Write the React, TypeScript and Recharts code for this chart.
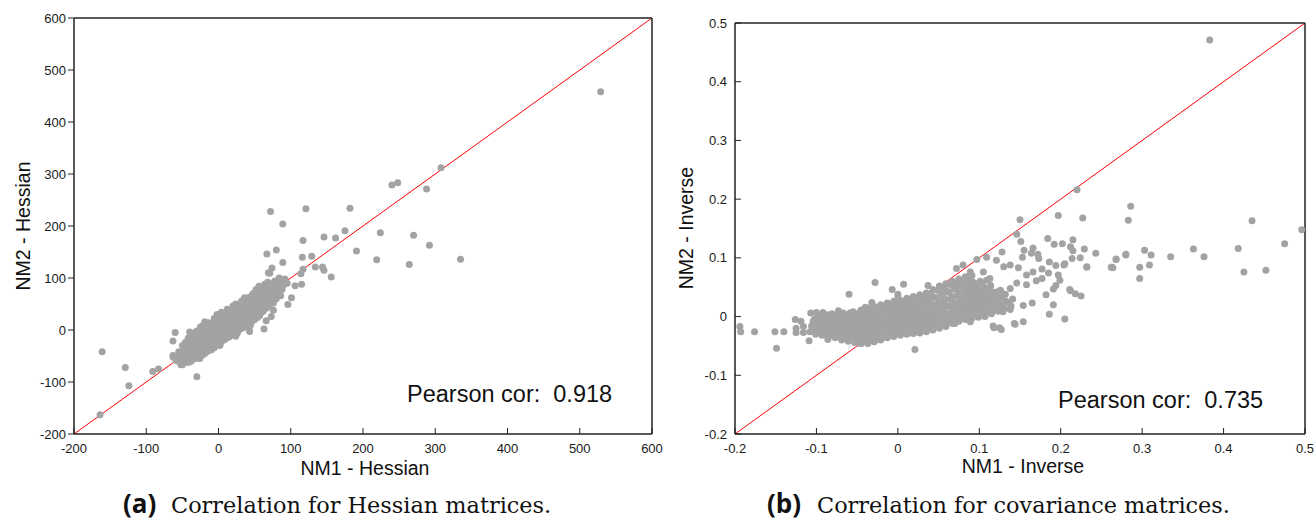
import React from 'react';
import { ScatterChart, Scatter, XAxis, YAxis, ReferenceLine } from 'recharts';

// ─── Data ─────────────────────────────────────────────────────────────────────

const hessianTicks = [-200, -100, 0, 100, 200, 300, 400, 500, 600];
const inverseTicks = [-0.2, -0.1, 0, 0.1, 0.2, 0.3, 0.4, 0.5];

const hessianCaption = { tag: '(a)', text: 'Correlation for Hessian matrices.' };
const inverseCaption = { tag: '(b)', text: 'Correlation for covariance matrices.' };

// scattered points (NM1, NM2) of the Hessian panel
const hessianOutliers: [number, number][] = [
  [529, 458], [308, 312], [240, 279], [248, 283], [288, 271], [182, 234], [121, 233],
  [72, 228], [89, 204], [162, 177], [175, 191], [146, 179], [117, 172], [224, 187],
  [270, 182], [292, 163], [335, 136], [219, 135], [264, 126], [191, 152], [156, 102],
  [80, 154], [67, 146], [116, 140], [129, 142], [89, 130], [74, 119], [69, 110],
  [134, 121], [144, 121], [146, 115], [117, 117], [114, 108], [106, 85], [115, 88],
  [101, 62], [96, 49], [66, 18], [63, 2], [43, -3], [-30, -90], [-60, -5], [-63, -21],
  [-63, -52], [-83, -75], [-91, -80], [-161, -42], [-129, -72], [-124, -107],
  [-164, -163], [85, 86], [76, 38], [73, 26], [71, 109],
];

// the dense band around the diagonal
const hessianCore: [number, number][] = [
  [-63, -49], [-59, -58], [-52, -67], [-50, -67], [-40, -4], [-35, -6], [-25, 6], [-19, 16],
  [-26, -55], [2, -30], [24, -12], [44, 8], [57, 28], [76, 52],
  [-58, -50], [-56, -60], [-55, -42], [-52, -55], [-50, -47], [-50, -66], [-48, -38],
  [-46, -58], [-45, -50], [-44, -30], [-42, -42], [-41, -62], [-40, -52], [-39, -22],
  [-38, -35], [-37, -45], [-36, -56], [-34, -28], [-33, -40], [-32, -18], [-31, -50],
  [-30, -33], [-29, -10], [-28, -24], [-27, -44], [-26, -36], [-25, -16], [-24, -28],
  [-23, -4], [-22, -40], [-21, -20], [-20, -32], [-19, -11], [-18, -25], [-17, 2],
  [-16, -36], [-15, -15], [-14, -5], [-13, -27], [-12, 8], [-11, -18], [-10, -32],
  [-9, -8], [-8, 2], [-7, -22], [-6, 14], [-5, -13], [-4, -28], [-3, -2], [-2, 8],
  [-1, -18], [0, 20], [1, -8], [2, 2], [3, -24], [4, 12], [5, -14], [6, 26], [7, -3],
  [8, 6], [9, -18], [10, 16], [11, -8], [12, 30], [13, 2], [14, 10], [15, -12], [16, 22],
  [17, -2], [18, 36], [19, 8], [20, 15], [21, -6], [22, 28], [23, 3], [24, 40], [25, 18],
  [26, 10], [27, -2], [28, 32], [29, 22], [30, 46], [31, 12], [32, 28], [33, 4], [34, 38],
  [35, 20], [36, 52], [37, 30], [38, 14], [39, 44], [40, 26], [41, 62], [42, 36], [43, 18],
  [44, 50], [45, 30], [46, 42], [47, 22], [48, 58], [49, 36], [50, 48], [51, 28], [52, 66],
  [53, 42], [54, 56], [55, 34], [56, 74], [57, 48], [58, 62], [59, 38], [60, 54], [61, 80],
  [62, 44], [63, 66], [64, 56], [65, 72], [66, 50], [67, 84], [68, 62], [69, 74], [70, 56],
  [72, 68], [73, 80], [74, 60], [75, 90], [76, 72], [78, 66], [79, 82], [80, 74], [82, 92],
  [83, 70], [85, 80], [87, 96], [88, 78], [90, 86], [92, 98], [95, 90],
];

// upper and lower fringes of the band, plus extra fill inside it
const hessianFringe: [number, number][] = [
  [-50, -30], [-46, -24], [-42, -16], [-38, -12], [-34, -8], [-30, -2], [-26, -6], [-22, 8],
  [-18, 6], [-14, 14], [-10, 12], [-6, 22], [-2, 30], [1, 24], [4, 34], [8, 28], [12, 40],
  [16, 36], [20, 46], [24, 50], [28, 44], [32, 56], [36, 62], [40, 54], [44, 64], [48, 70],
  [52, 78], [56, 84], [60, 72], [64, 88], [68, 92], [72, 86], [78, 94], [84, 100],
  [-44, -62], [-38, -60], [-34, -56], [-30, -54], [-26, -50], [-22, -48], [-18, -44],
  [-14, -40], [-10, -38], [-6, -34], [-2, -30], [2, -22], [6, -20], [10, -16], [14, -14],
  [18, -10], [22, -4], [26, -6], [30, 2], [34, 6], [38, 6], [42, 12], [46, 16], [50, 20],
  [54, 24], [58, 32], [62, 36], [66, 42], [70, 46], [74, 52], [80, 60], [86, 66],
  [-56, -52], [-53, -48], [-49, -54], [-47, -44], [-43, -48], [-41, -36], [-38, -42],
  [-35, -30], [-33, -48], [-31, -26], [-28, -38], [-26, -22], [-24, -46], [-22, -26],
  [-20, -14], [-18, -36], [-16, -22], [-14, -30], [-12, -12], [-10, -22], [-8, -16],
  [-6, -4], [-4, -20], [-2, -10], [0, -4], [2, 16], [4, -6], [6, 4], [8, -10], [10, 8],
  [12, -2], [14, 20], [16, 4], [18, 18], [20, 2], [22, 14], [24, 26], [26, 30], [28, 14],
  [30, 24], [32, 40], [34, 24], [36, 36], [38, 28], [40, 42], [42, 48], [44, 36], [46, 54],
  [48, 40], [50, 58], [52, 46], [54, 40], [56, 60], [58, 50], [60, 66], [62, 58], [64, 46],
  [66, 64], [68, 74], [70, 66], [72, 58], [74, 76], [78, 76], [82, 80], [86, 88],
];

// scattered points (NM1, NM2) of the inverse panel
const inverseOutliers: [number, number][] = [
  [0.383, 0.471], [0.22, 0.216], [0.286, 0.188], [0.283, 0.164], [0.197, 0.172],
  [0.227, 0.168], [0.15, 0.165], [0.435, 0.163], [0.496, 0.148], [0.475, 0.124],
  [0.418, 0.116], [0.363, 0.115], [0.303, 0.113], [0.311, 0.105], [0.335, 0.102],
  [0.376, 0.102], [0.28, 0.105], [0.268, 0.097], [0.243, 0.108], [0.229, 0.115],
  [0.215, 0.131], [0.202, 0.124], [0.192, 0.123], [0.184, 0.133], [0.166, 0.117],
  [0.155, 0.113], [0.151, 0.128], [0.146, 0.14], [0.128, 0.11], [0.215, 0.112],
  [0.212, 0.119], [0.262, 0.084], [0.264, 0.083], [0.297, 0.084], [0.309, 0.088],
  [0.297, 0.065], [0.425, 0.076], [0.452, 0.079], [0.232, 0.084], [0.225, 0.035],
  [0.212, 0.044], [0.205, -0.004], [0.191, 0.02], [0.186, 0.004], [0.165, 0.023],
  [0.154, 0.019], [0.154, -0.009], [0.144, -0.013], [0.127, -0.022], [0.118, -0.019],
  [0.182, 0.037], [0.204, 0.088], [0.224, 0.1], [0.214, 0.099], [0.232, 0.085],
  [0.263, 0.084], [0.268, 0.098], [0.28, 0.106], [0.205, 0.09], [0.194, 0.087],
  [0.186, 0.093], [0.164, 0.108], [0.172, 0.106], [0.173, 0.099], [0.153, 0.101],
  [0.097, 0.097], [0.211, 0.046], [0.218, 0.039], [0.138, 0.012], [0.129, 0.008],
  [0.158, 0.054], [0.17, 0.061], [0.177, 0.065], [0.191, 0.047], [0.194, 0.053],
  [0.199, 0.062], [0.197, 0.071], [0.185, 0.074], [0.177, 0.081], [0.166, 0.076],
  [0.158, 0.071], [0.148, 0.083], [0.138, 0.088], [0.13, 0.085], [0.121, 0.096],
  [0.109, 0.101], [0.105, 0.076], [0.113, 0.065], [0.121, 0.042], [0.13, 0.037],
  [0.138, 0.048], [0.146, 0.057], [0.089, 0.076], [0.08, 0.088], [0.072, 0.082],
  [0.085, 0.059], [0.072, 0.054], [0.097, 0.054], [0.089, 0.037], [0.105, 0.031],
  [0.117, 0.02], [0.097, 0.014], [0.08, 0.025], [0.07, -0.012], [0.089, -0.009],
  [0.107, 0.0], [0.117, -0.016], [0.125, -0.019], [0.143, -0.012],
  [-0.194, -0.017], [-0.193, -0.026], [-0.176, -0.026], [-0.151, -0.026], [-0.14, -0.026],
  [-0.149, -0.054], [-0.126, -0.005], [-0.125, -0.02], [-0.125, -0.027], [-0.119, -0.008],
  [-0.116, -0.027], [-0.116, -0.017], [-0.109, -0.041], [-0.107, 0.006], [-0.1, 0.007],
  [-0.092, 0.007], [-0.086, -0.039], [-0.073, 0.01], [-0.06, 0.038], [-0.028, 0.058],
  [-0.032, 0.024], [-0.007, 0.046], [0.0, 0.038], [0.007, 0.055], [0.037, 0.053],
  [0.021, -0.056], [-0.046, -0.046],
];

// the dense blob around zero
const inverseCore: [number, number][] = [
  [-0.108, -0.026], [-0.106, -0.016], [-0.104, -0.008],
  [-0.101, -0.03], [-0.099, -0.02], [-0.1, -0.01], [-0.098, -0.002],
  [-0.093, -0.032], [-0.091, -0.022], [-0.092, -0.013], [-0.09, -0.004], [-0.094, 0.002],
  [-0.085, -0.034], [-0.083, -0.024], [-0.084, -0.015], [-0.082, -0.006], [-0.086, 0.003],
  [-0.077, -0.036], [-0.075, -0.027], [-0.076, -0.017], [-0.074, -0.008], [-0.078, 0.002],
  [-0.069, -0.04], [-0.067, -0.03], [-0.068, -0.021], [-0.066, -0.011], [-0.07, -0.002], [-0.067, 0.006],
  [-0.061, -0.042], [-0.059, -0.032], [-0.06, -0.023], [-0.058, -0.013], [-0.062, -0.004], [-0.059, 0.006],
  [-0.053, -0.044], [-0.051, -0.034], [-0.052, -0.025], [-0.05, -0.015], [-0.054, -0.006], [-0.051, 0.004],
  [-0.045, -0.046], [-0.043, -0.036], [-0.044, -0.027], [-0.042, -0.017], [-0.046, -0.008], [-0.043, 0.002], [-0.045, 0.011],
  [-0.037, -0.046], [-0.035, -0.036], [-0.036, -0.026], [-0.034, -0.016], [-0.038, -0.006], [-0.035, 0.004], [-0.037, 0.014],
  [-0.029, -0.043], [-0.027, -0.033], [-0.028, -0.023], [-0.026, -0.013], [-0.03, -0.003], [-0.027, 0.007], [-0.029, 0.017],
  [-0.021, -0.04], [-0.019, -0.03], [-0.02, -0.02], [-0.018, -0.01], [-0.022, 0.0], [-0.019, 0.01], [-0.021, 0.02],
  [-0.013, -0.036], [-0.011, -0.026], [-0.012, -0.016], [-0.01, -0.006], [-0.014, 0.004], [-0.011, 0.014], [-0.013, 0.023],
  [-0.005, -0.034], [-0.003, -0.024], [-0.004, -0.014], [-0.002, -0.004], [-0.006, 0.006], [-0.003, 0.016], [-0.005, 0.026],
  [0.003, -0.032], [0.005, -0.022], [0.004, -0.012], [0.006, -0.002], [0.002, 0.008], [0.005, 0.018], [0.003, 0.028],
  [0.011, -0.03], [0.013, -0.02], [0.012, -0.01], [0.014, 0.0], [0.01, 0.01], [0.013, 0.02], [0.011, 0.031],
  [0.019, -0.029], [0.021, -0.019], [0.02, -0.009], [0.022, 0.002], [0.018, 0.012], [0.021, 0.022], [0.019, 0.034],
  [0.027, -0.028], [0.029, -0.018], [0.028, -0.007], [0.03, 0.004], [0.026, 0.015], [0.029, 0.026], [0.027, 0.037],
  [0.035, -0.026], [0.037, -0.015], [0.036, -0.004], [0.038, 0.007], [0.034, 0.018], [0.037, 0.029], [0.035, 0.04],
  [0.043, -0.023], [0.045, -0.012], [0.044, -0.001], [0.046, 0.01], [0.042, 0.021], [0.045, 0.033], [0.043, 0.046],
  [0.051, -0.02], [0.053, -0.009], [0.052, 0.002], [0.054, 0.014], [0.05, 0.026], [0.053, 0.039], [0.051, 0.052],
  [0.059, -0.017], [0.061, -0.005], [0.06, 0.006], [0.062, 0.018], [0.058, 0.03], [0.061, 0.043], [0.059, 0.056],
  [0.067, -0.012], [0.069, 0.0], [0.068, 0.011], [0.07, 0.023], [0.066, 0.035], [0.069, 0.048], [0.067, 0.06],
  [0.075, -0.008], [0.077, 0.004], [0.076, 0.016], [0.078, 0.028], [0.074, 0.04], [0.077, 0.052], [0.075, 0.064],
  [0.083, -0.005], [0.085, 0.007], [0.084, 0.019], [0.086, 0.031], [0.082, 0.043], [0.085, 0.056], [0.083, 0.068],
  [0.091, -0.003], [0.093, 0.009], [0.092, 0.021], [0.094, 0.033], [0.09, 0.045], [0.093, 0.058], [0.091, 0.07],
  [0.099, -0.001], [0.101, 0.011], [0.1, 0.023], [0.102, 0.035], [0.098, 0.047], [0.101, 0.06],
  [0.107, 0.002], [0.109, 0.014], [0.108, 0.026], [0.11, 0.038], [0.106, 0.05], [0.109, 0.062],
  [0.115, 0.005], [0.117, 0.017], [0.116, 0.029], [0.118, 0.041], [0.114, 0.053],
  [0.123, 0.009], [0.125, 0.021], [0.124, 0.033], [0.126, 0.045],
  [0.131, 0.014], [0.133, 0.026], [0.132, 0.038],
  [0.139, 0.018], [0.141, 0.03],
];

// extra fill between the blob's points
const inverseFill: [number, number][] = [
  [-0.104, -0.024], [-0.103, -0.013], [-0.102, -0.004],
  [-0.096, -0.027], [-0.095, -0.017], [-0.096, -0.008], [-0.095, 0.0],
  [-0.088, -0.029], [-0.087, -0.019], [-0.088, -0.01], [-0.087, -0.001],
  [-0.08, -0.031], [-0.079, -0.021], [-0.08, -0.012], [-0.079, -0.003], [-0.081, 0.005],
  [-0.072, -0.034], [-0.071, -0.024], [-0.072, -0.015], [-0.071, -0.006], [-0.073, 0.003],
  [-0.064, -0.037], [-0.063, -0.027], [-0.064, -0.018], [-0.063, -0.008], [-0.065, 0.002],
  [-0.056, -0.039], [-0.055, -0.029], [-0.056, -0.02], [-0.055, -0.01], [-0.057, 0.0], [-0.055, 0.008],
  [-0.048, -0.041], [-0.047, -0.031], [-0.048, -0.022], [-0.047, -0.012], [-0.049, -0.003], [-0.047, 0.007],
  [-0.04, -0.042], [-0.039, -0.031], [-0.04, -0.021], [-0.039, -0.011], [-0.041, -0.001], [-0.039, 0.009], [-0.04, 0.016],
  [-0.032, -0.041], [-0.031, -0.03], [-0.032, -0.018], [-0.031, -0.008], [-0.033, 0.002], [-0.031, 0.012],
  [-0.024, -0.038], [-0.023, -0.025], [-0.024, -0.015], [-0.023, -0.005], [-0.025, 0.005], [-0.023, 0.015],
  [-0.016, -0.035], [-0.015, -0.021], [-0.016, -0.011], [-0.015, -0.001], [-0.017, 0.009], [-0.015, 0.018],
  [-0.008, -0.031], [-0.007, -0.019], [-0.008, -0.009], [-0.007, 0.001], [-0.009, 0.011], [-0.007, 0.021],
  [0.0, -0.028], [0.001, -0.017], [0.0, -0.007], [0.001, 0.003], [-0.001, 0.013], [0.001, 0.023], [0.0, 0.031],
  [0.008, -0.026], [0.009, -0.015], [0.008, -0.005], [0.009, 0.005], [0.007, 0.015], [0.009, 0.025],
  [0.016, -0.025], [0.017, -0.014], [0.016, -0.004], [0.017, 0.007], [0.015, 0.017], [0.017, 0.028],
  [0.024, -0.024], [0.025, -0.013], [0.024, -0.002], [0.025, 0.009], [0.023, 0.02], [0.025, 0.031],
  [0.032, -0.022], [0.033, -0.01], [0.032, 0.001], [0.033, 0.012], [0.031, 0.023], [0.033, 0.034],
  [0.04, -0.02], [0.041, -0.007], [0.04, 0.004], [0.041, 0.015], [0.039, 0.027], [0.041, 0.039],
  [0.048, -0.016], [0.049, -0.004], [0.048, 0.008], [0.049, 0.02], [0.047, 0.032], [0.049, 0.045],
  [0.056, -0.012], [0.057, 0.0], [0.056, 0.012], [0.057, 0.024], [0.055, 0.036], [0.057, 0.049],
  [0.064, -0.009], [0.065, 0.005], [0.064, 0.017], [0.065, 0.029], [0.063, 0.041], [0.065, 0.054],
  [0.072, -0.005], [0.073, 0.01], [0.072, 0.022], [0.073, 0.034], [0.071, 0.046], [0.073, 0.058],
  [0.08, -0.002], [0.081, 0.013], [0.08, 0.025], [0.081, 0.037], [0.079, 0.05], [0.081, 0.062],
  [0.088, 0.001], [0.089, 0.015], [0.088, 0.027], [0.089, 0.039], [0.087, 0.051], [0.089, 0.064],
  [0.096, 0.004], [0.097, 0.017], [0.096, 0.029], [0.097, 0.041], [0.095, 0.053],
  [0.104, 0.007], [0.105, 0.02], [0.104, 0.032], [0.105, 0.044], [0.103, 0.056],
  [0.112, 0.01], [0.113, 0.023], [0.112, 0.035], [0.113, 0.047],
  [0.12, 0.013], [0.121, 0.027], [0.12, 0.039], [0.128, 0.018], [0.129, 0.031], [0.136, 0.024],
];

// ─── Styling ──────────────────────────────────────────────────────────────────

const POINT = '#a3a3a3';
const FRAME = '#222222';
const SANS = '"Liberation Sans", Arial, sans-serif';

const toRows = (pts: [number, number][]) => pts.map(([x, y]) => ({ x, y }));

const Dot = (props: any) => <circle cx={props.cx} cy={props.cy} r={3.5} fill={POINT} />;

const tickFont = { fontSize: 13, fill: '#1a1a1a', fontFamily: SANS };

interface PanelProps {
  width: number;
  margin: { top: number; right: number; bottom: number; left: number };
  domain: [number, number];
  ticks: number[];
  points: [number, number][];
  leftTicksOut: boolean;
}

// axis sizes are subtracted from the margins so the frame lands where it should
const Panel: React.FC<PanelProps> = ({ width, margin, domain, ticks, points, leftTicksOut }) => (
  <ScatterChart
    width={width}
    height={521}
    margin={{
      top: margin.top - 2,
      right: margin.right - 2,
      bottom: margin.bottom - 30,
      left: margin.left - 60,
    }}
  >
    <XAxis
      xAxisId="b" type="number" dataKey="x" orientation="bottom" height={30}
      domain={domain} ticks={ticks} interval={0} allowDataOverflow
      tickSize={-6} tickMargin={16}
      axisLine={{ stroke: FRAME, strokeWidth: 1.5 }} tickLine={{ stroke: FRAME }}
      tick={tickFont}
    />
    <XAxis
      xAxisId="t" type="number" orientation="top" height={2}
      domain={domain} ticks={ticks} interval={0} allowDataOverflow
      tickSize={-6} tick={false}
      axisLine={{ stroke: FRAME, strokeWidth: 1.5 }} tickLine={{ stroke: FRAME }}
    />
    <YAxis
      yAxisId="l" type="number" dataKey="y" orientation="left" width={60}
      domain={domain} ticks={ticks} interval={0} allowDataOverflow
      tickSize={leftTicksOut ? 6 : -6} tickMargin={leftTicksOut ? 2 : 14}
      axisLine={{ stroke: FRAME, strokeWidth: 1.5 }} tickLine={{ stroke: FRAME }}
      tick={tickFont}
    />
    <YAxis
      yAxisId="r" type="number" orientation="right" width={2}
      domain={domain} ticks={ticks} interval={0} allowDataOverflow
      tickSize={-6} tick={false}
      axisLine={{ stroke: FRAME, strokeWidth: 1.5 }} tickLine={{ stroke: FRAME }}
    />
    <Scatter
      xAxisId="b" yAxisId="l" data={toRows(points)}
      shape={Dot} isAnimationActive={false}
    />
    <ReferenceLine
      xAxisId="b" yAxisId="l"
      segment={[{ x: domain[0], y: domain[0] }, { x: domain[1], y: domain[1] }]}
      stroke="#ff0000" strokeWidth={1}
    />
  </ScatterChart>
);

// ─── App ──────────────────────────────────────────────────────────────────────

export default function App() {
  return (
    <div style={{ position: 'absolute', left: 0, top: 0, width: 1314, height: 521, background: '#fff' }}>
      <div style={{ position: 'absolute', left: 0, top: 0 }}>
        <Panel
          width={676}
          margin={{ top: 18, right: 24, bottom: 87, left: 74 }}
          domain={[-200, 600]}
          ticks={hessianTicks}
          points={[...hessianCore, ...hessianFringe, ...hessianOutliers]}
          leftTicksOut
        />
      </div>
      <div style={{ position: 'absolute', left: 660, top: 0 }}>
        <Panel
          width={654}
          margin={{ top: 23, right: 9, bottom: 87, left: 75 }}
          domain={[-0.2, 0.5]}
          ticks={inverseTicks}
          points={[...inverseCore, ...inverseFill, ...inverseOutliers]}
          leftTicksOut={false}
        />
      </div>

      <svg
        width={1314}
        height={521}
        style={{ position: 'absolute', left: 0, top: 0, pointerEvents: 'none' }}
      >
        <g fontFamily={SANS} fill="#111">
          <text x={407} y={402} fontSize={23.5}>{'Pearson cor:\u00a0 0.918'}</text>
          <text x={1058} y={408} fontSize={23.5}>{'Pearson cor:\u00a0 0.735'}</text>

          <text x={365} y={475} fontSize={19.5} textAnchor="middle">NM1 - Hessian</text>
          <text x={1023} y={473} fontSize={19.5} textAnchor="middle">NM1 - Inverse</text>
          <text x={30} y={226} fontSize={19.5} textAnchor="middle" transform="rotate(-90 30 226)">
            NM2 - Hessian
          </text>
          <text x={693} y={228} fontSize={19.5} textAnchor="middle" transform="rotate(-90 693 228)">
            NM2 - Inverse
          </text>
        </g>

        <g fill="#111">
          <text x={123} y={513} fontSize={26} fontWeight={700} fontFamily='"Open Sans", "DejaVu Sans", sans-serif'>
            {hessianCaption.tag}
          </text>
          <text x={171} y={513} fontSize={22.4} fontFamily='"DejaVu Serif", serif'>
            {hessianCaption.text}
          </text>
          <text x={767} y={513} fontSize={26} fontWeight={700} fontFamily='"Open Sans", "DejaVu Sans", sans-serif'>
            {inverseCaption.tag}
          </text>
          <text x={817} y={513} fontSize={22.4} fontFamily='"DejaVu Serif", serif'>
            {inverseCaption.text}
          </text>
        </g>
      </svg>
    </div>
  );
}
